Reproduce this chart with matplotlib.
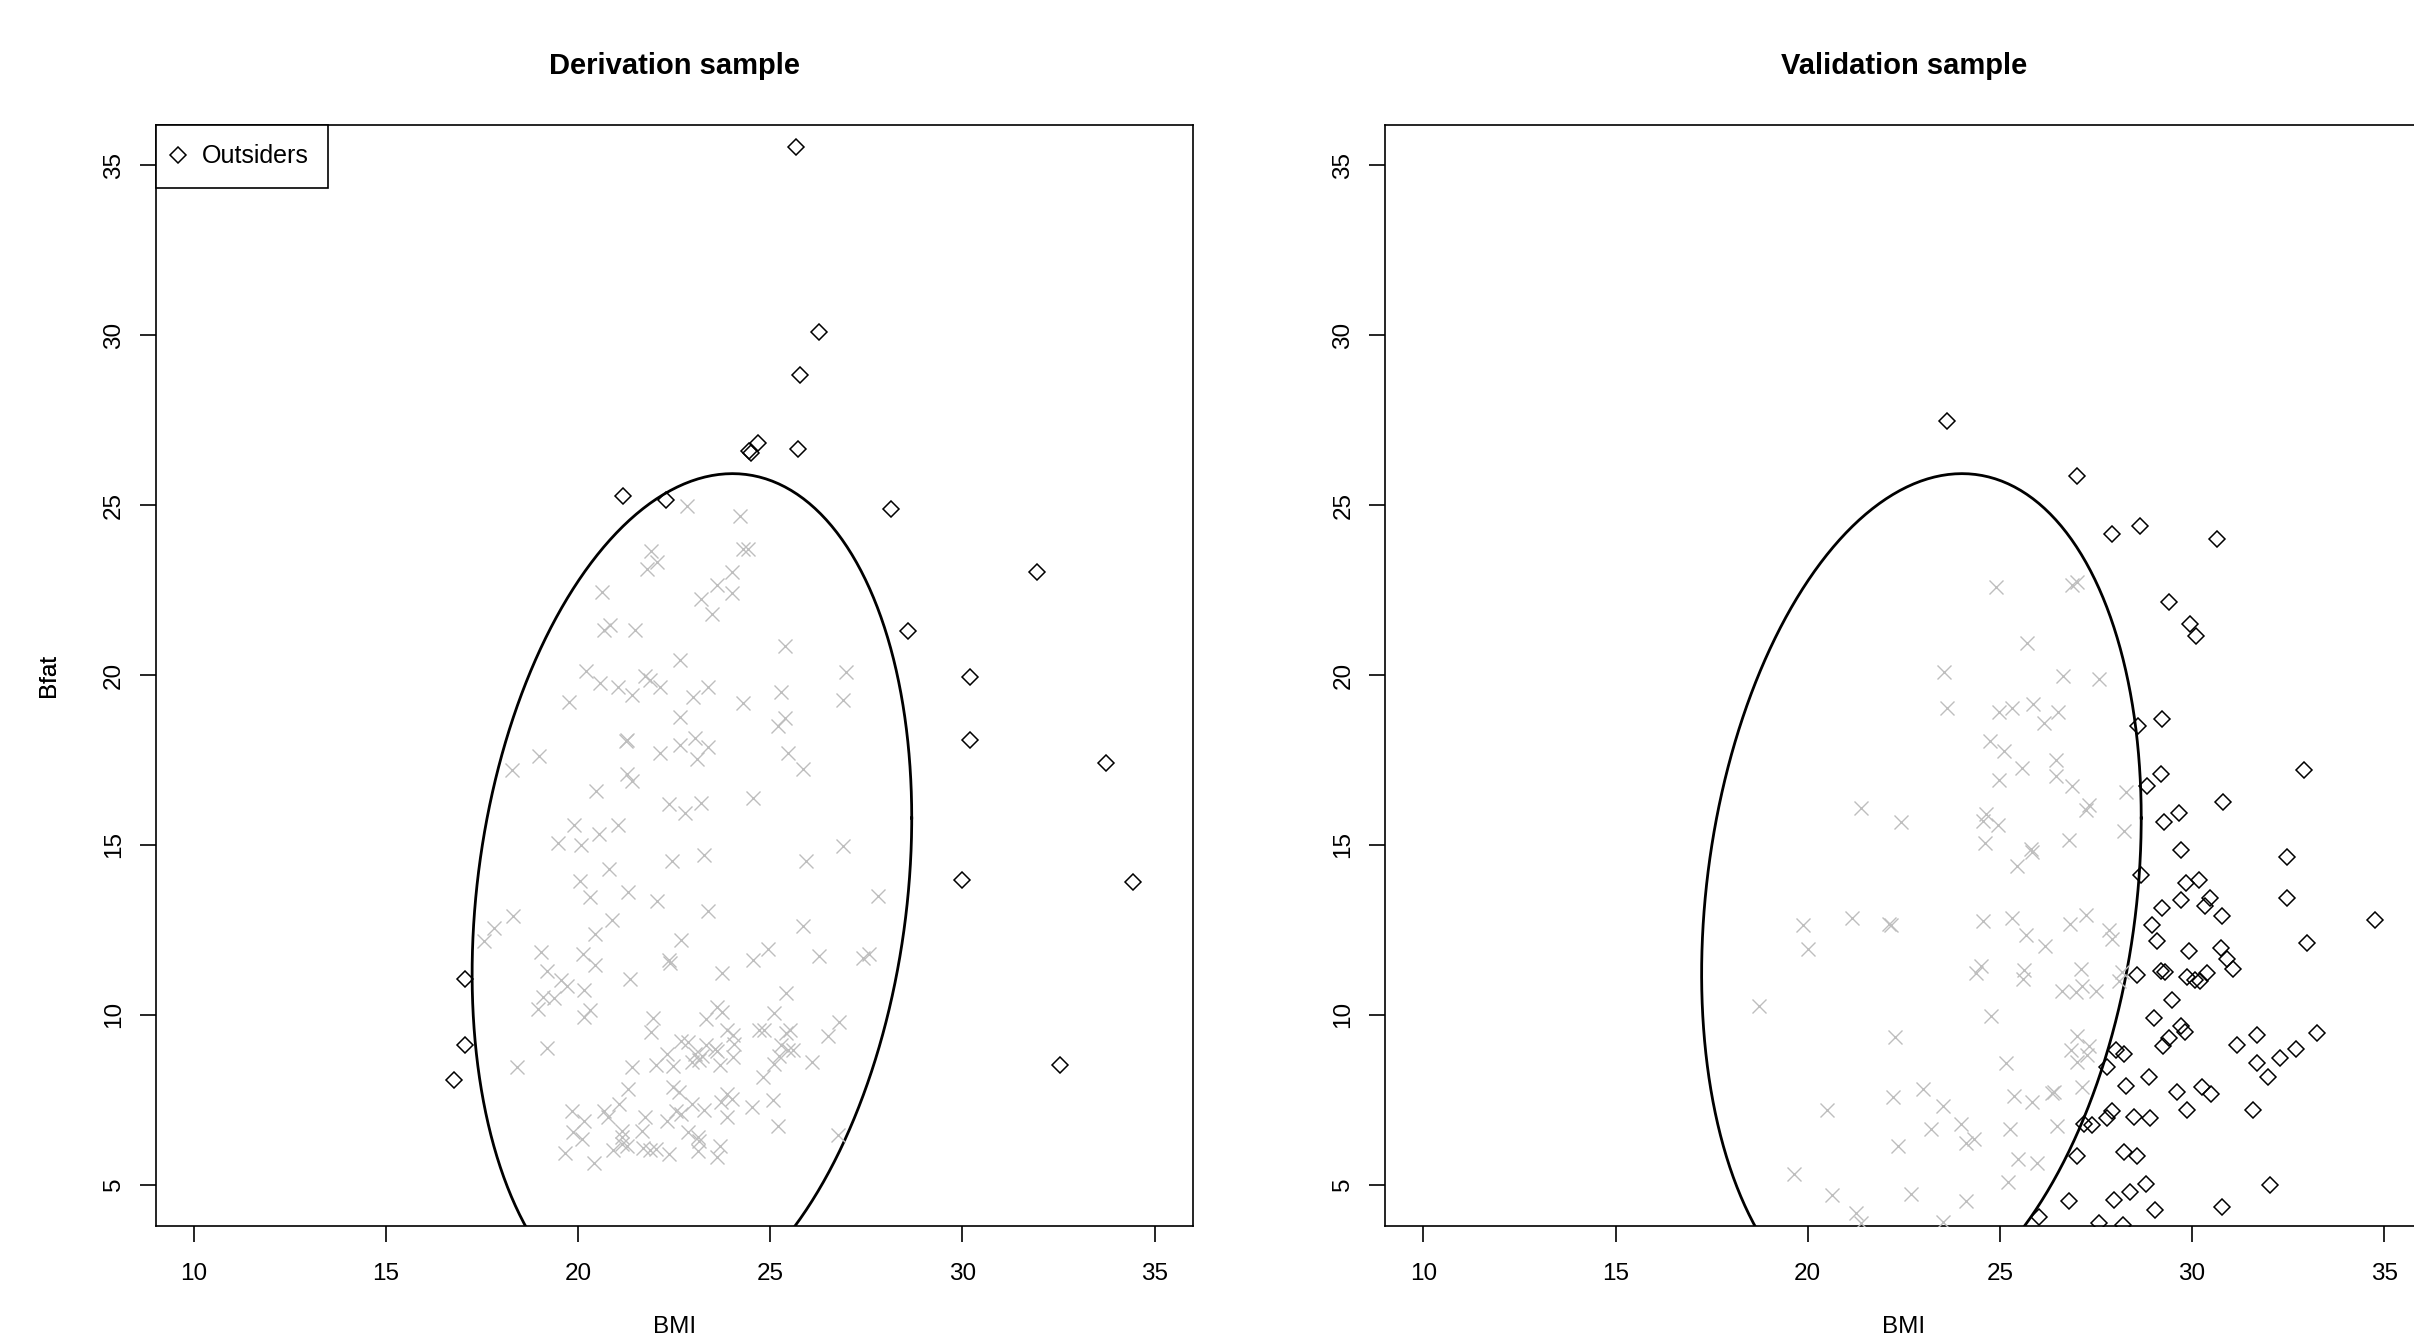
import matplotlib
matplotlib.use('Agg')
import matplotlib.pyplot as plt
import numpy as np

plt.rcParams['font.family'] = ['Liberation Sans', 'DejaVu Sans']

# Derivation sample, points inside the ellipse (BMI, Bfat)
deriv_inside = [
    (22.82, 24.97), (24.22, 24.69), (24.28, 23.71), (24.42, 23.71), (21.89, 23.66),
    (22.05, 23.32), (21.80, 23.12), (24.01, 23.02), (23.60, 22.64), (23.99, 22.41),
    (23.20, 22.25), (23.49, 21.80), (20.63, 22.44), (20.68, 21.33), (20.83, 21.46),
    (21.48, 21.33), (25.38, 20.87), (22.64, 20.45), (20.20, 20.13), (26.97, 20.10),
    (20.57, 19.76), (21.04, 19.64), (21.75, 19.98), (21.88, 19.86), (22.14, 19.64),
    (21.41, 19.40), (23.37, 19.64), (22.98, 19.37), (25.29, 19.51), (26.88, 19.27),
    (19.77, 19.20), (24.30, 19.17), (22.64, 18.78), (25.37, 18.73), (25.19, 18.50),
    (21.25, 18.07), (21.28, 18.09), (22.64, 17.94), (23.03, 18.14), (23.37, 17.89),
    (22.14, 17.70), (23.08, 17.52), (25.45, 17.70), (25.85, 17.24), (18.98, 17.63),
    (18.27, 17.22), (21.27, 17.09), (21.39, 16.88), (20.47, 16.60), (22.37, 16.20),
    (22.78, 15.95), (23.19, 16.24), (24.55, 16.39), (19.89, 15.58), (21.04, 15.58),
    (20.54, 15.32), (19.47, 15.07), (20.07, 15.01), (26.88, 14.97), (22.44, 14.52),
    (23.28, 14.70), (25.94, 14.53), (20.79, 14.28), (20.05, 13.94), (20.32, 13.47),
    (21.30, 13.62), (22.06, 13.35), (23.39, 13.06), (27.81, 13.49), (18.31, 12.91),
    (17.81, 12.56), (17.55, 12.16), (20.89, 12.78), (20.45, 12.39), (22.68, 12.19),
    (25.85, 12.61), (19.02, 11.85), (20.12, 11.78), (20.43, 11.48), (22.37, 11.60),
    (22.39, 11.54), (24.55, 11.62), (24.94, 11.93), (26.27, 11.72), (27.42, 11.68),
    (27.58, 11.78), (19.18, 11.28), (19.56, 11.02), (19.70, 10.84), (21.36, 11.06),
    (23.73, 11.23), (20.16, 10.74), (25.40, 10.64), (19.08, 10.52), (19.38, 10.49),
    (18.95, 10.16), (20.31, 10.15), (20.14, 9.93), (21.94, 9.90), (21.89, 9.49),
    (23.60, 10.23), (23.73, 10.08), (23.32, 9.87), (25.10, 10.05), (26.80, 9.79),
    (24.71, 9.56), (24.83, 9.56), (23.87, 9.56), (24.03, 9.40), (25.42, 9.46),
    (25.51, 9.54), (26.51, 9.39), (22.68, 9.22), (22.87, 9.19), (19.18, 9.03),
    (23.32, 9.10), (23.55, 9.00), (23.60, 8.95), (24.05, 9.15), (22.32, 8.85),
    (23.05, 8.85), (23.14, 8.66), (23.23, 8.80), (25.28, 9.10), (25.46, 8.97),
    (25.60, 8.97), (22.96, 8.61), (22.02, 8.51), (22.48, 8.48), (23.70, 8.51),
    (24.03, 8.75), (25.10, 8.56), (25.22, 8.80), (26.08, 8.61), (18.40, 8.46),
    (21.39, 8.46), (24.80, 8.18), (21.29, 7.82), (22.46, 7.87), (22.62, 7.72),
    (23.87, 7.67), (23.99, 7.53), (23.71, 7.43), (25.08, 7.48), (24.53, 7.28),
    (19.83, 7.18), (20.15, 6.87), (20.68, 7.18), (20.77, 6.99), (21.06, 7.38),
    (21.75, 6.99), (22.32, 6.87), (22.55, 7.18), (22.68, 7.08), (22.96, 7.38),
    (23.28, 7.21), (23.87, 6.99), (25.19, 6.74), (19.86, 6.56), (20.09, 6.34),
    (21.14, 6.59), (21.15, 6.40), (21.66, 6.57), (22.87, 6.56), (23.12, 6.40),
    (23.14, 6.30), (26.76, 6.45), (19.65, 5.92), (20.91, 6.03), (21.14, 6.20),
    (21.27, 6.15), (21.68, 6.07), (21.88, 6.03), (22.03, 6.05), (22.37, 5.91),
    (23.12, 6.00), (23.69, 6.15), (23.60, 5.81), (20.41, 5.63),
]

# Derivation sample, outsiders
deriv_outside = [
    (25.66, 35.53), (26.26, 30.11), (25.76, 28.83), (25.73, 26.66), (24.44, 26.59),
    (24.49, 26.54), (24.68, 26.82), (21.16, 25.26), (22.29, 25.16), (28.14, 24.90),
    (31.93, 23.03), (28.58, 21.31), (30.19, 19.94), (30.19, 18.08), (33.74, 17.40),
    (29.99, 13.98), (34.43, 13.91), (32.53, 8.52), (17.06, 11.05), (17.06, 9.10),
    (16.76, 8.07),
]

# Validation sample, points inside the ellipse
valid_inside = [
    (24.90, 22.59), (26.89, 22.64), (27.01, 22.74), (25.70, 20.94), (23.56, 20.08),
    (26.64, 19.96), (27.58, 19.89), (23.63, 19.02), (24.97, 18.92), (25.32, 19.02),
    (25.87, 19.15), (26.52, 18.92), (26.15, 18.60), (24.75, 18.07), (25.12, 17.78),
    (26.45, 17.50), (25.57, 17.27), (26.45, 17.03), (24.97, 16.91), (26.88, 16.74),
    (28.29, 16.57), (27.32, 16.17), (27.24, 16.03), (21.38, 16.09), (22.42, 15.68),
    (24.63, 15.91), (24.55, 15.70), (24.94, 15.60), (26.80, 15.15), (28.23, 15.41),
    (24.62, 15.06), (25.81, 14.87), (25.85, 14.80), (25.46, 14.39), (19.88, 12.63),
    (20.01, 11.95), (21.15, 12.84), (22.12, 12.68), (22.18, 12.65), (24.56, 12.75),
    (25.31, 12.84), (25.69, 12.36), (26.17, 12.03), (26.82, 12.68), (27.25, 12.94),
    (27.83, 12.50), (27.93, 12.24), (24.50, 11.43), (24.39, 11.22), (25.63, 11.31),
    (25.61, 11.05), (27.11, 11.36), (26.61, 10.69), (26.98, 10.67), (27.13, 10.84),
    (27.51, 10.69), (28.17, 11.25), (28.10, 10.99), (18.72, 10.27), (24.76, 9.96),
    (22.27, 9.36), (27.00, 9.39), (26.86, 8.98), (27.32, 9.08), (27.28, 8.83),
    (27.00, 8.62), (25.15, 8.59), (27.15, 7.89), (26.41, 7.72), (26.37, 7.69),
    (22.21, 7.58), (23.00, 7.82), (23.53, 7.31), (25.37, 7.62), (25.83, 7.43),
    (20.51, 7.19), (23.22, 6.65), (23.98, 6.79), (24.33, 6.36), (24.11, 6.22),
    (25.26, 6.65), (26.48, 6.73), (22.34, 6.14), (25.48, 5.77), (25.98, 5.65),
    (19.65, 5.33), (20.62, 4.71), (22.70, 4.74), (24.12, 4.53), (25.22, 5.08),
    (21.27, 4.17), (21.38, 3.86), (23.51, 3.91),
]

# Validation sample, outsiders
valid_outside = [
    (23.63, 27.47), (27.00, 25.86), (27.93, 24.16), (28.65, 24.38), (30.65, 24.01),
    (29.39, 22.16), (29.95, 21.50), (30.10, 21.15), (28.60, 18.49), (29.23, 18.70),
    (29.19, 17.09), (28.84, 16.74), (32.92, 17.21), (30.82, 16.26), (29.27, 15.69),
    (29.67, 15.93), (29.71, 14.86), (28.67, 14.11), (32.47, 14.65), (29.84, 13.88),
    (30.19, 13.96), (29.71, 13.37), (30.34, 13.21), (30.46, 13.45), (30.79, 12.91),
    (29.23, 13.15), (32.47, 13.45), (34.77, 12.80), (28.97, 12.65), (29.08, 12.17),
    (29.93, 11.87), (30.75, 11.97), (30.92, 11.64), (31.07, 11.34), (32.99, 12.12),
    (28.58, 11.18), (29.19, 11.30), (29.29, 11.25), (29.86, 11.11), (30.08, 11.04),
    (30.21, 10.99), (30.40, 11.22), (29.47, 10.44), (29.00, 9.90), (29.71, 9.67),
    (29.82, 9.49), (29.41, 9.31), (29.25, 9.07), (28.02, 8.96), (28.23, 8.86),
    (27.80, 8.47), (31.18, 9.12), (31.69, 9.42), (31.69, 8.59), (31.99, 8.18),
    (32.29, 8.74), (32.70, 9.00), (33.25, 9.46), (28.28, 7.91), (28.89, 8.17),
    (29.62, 7.73), (29.86, 7.20), (30.27, 7.88), (30.49, 7.66), (31.59, 7.20),
    (27.19, 6.78), (27.41, 6.75), (27.80, 6.96), (27.91, 7.16), (28.49, 6.99),
    (28.90, 6.96), (27.02, 5.85), (28.23, 5.95), (28.56, 5.85), (32.03, 4.98),
    (26.80, 4.53), (27.96, 4.56), (28.39, 4.80), (28.80, 5.02), (29.03, 4.27),
    (30.78, 4.35), (26.02, 4.05), (27.58, 3.88), (28.21, 3.82),
]

# Ellipse from the derivation sample: centre and shape matrix (BMI, Bfat)
ellipse_center = [22.96, 13.5]
ellipse_shape = [[32.72, 13.12], [13.12, 154.5]]

x_ticks = [10, 15, 20, 25, 30, 35]
y_ticks = [5, 10, 15, 20, 25, 30, 35]

# Ellipse outline
L = np.linalg.cholesky(np.array(ellipse_shape))
t = np.linspace(0, 2 * np.pi, 400)
ell = np.array(ellipse_center)[:, None] + L @ np.vstack([np.cos(t), np.sin(t)])

W, H = 2414, 1339
fig = plt.figure(figsize=(W / 100, H / 100), dpi=100)

# axes boxes in pixels: left, top, right, bottom
boxes = [(155.5, 124.7, 1193.0, 1225.5), (1385.0, 124.7, 2422.5, 1225.5)]
panels = [
    ("Derivation sample", deriv_inside, deriv_outside, True),
    ("Validation sample", valid_inside, valid_outside, False),
]

for (l, top, r, b), (title, inside, outside, show_legend) in zip(boxes, panels):
    ax = fig.add_axes([l / W, 1 - b / H, (r - l) / W, (b - top) / H])
    inside = np.array(inside)
    outside = np.array(outside)

    ax.plot(ell[0], ell[1], color='black', lw=2.0, zorder=2)
    ax.plot(inside[:, 0], inside[:, 1], 'x', color='#bebebe', ms=9.4, mew=1.0,
            linestyle='none', zorder=3)
    ax.plot(outside[:, 0], outside[:, 1], 'D', mfc='none', mec='black', ms=8.6,
            mew=1.1, linestyle='none', zorder=4, label='Outsiders')

    ax.set_xlim(9, 36)
    ax.set_ylim(3.8, 36.2)
    ax.set_xticks(x_ticks)
    ax.set_yticks(y_ticks)
    ax.tick_params(direction='out', length=11.5, width=1.2, labelsize=17.5)
    ax.tick_params(axis='x', pad=15.5)
    ax.tick_params(axis='y', pad=10.5, labelrotation=90)
    for lab in ax.get_yticklabels():
        lab.set_va('center')
    for sp in ax.spines.values():
        sp.set_linewidth(1.2)

    h = b - top
    ax.set_title(title, fontsize=21, fontweight='bold', y=1 + (top - 73.5) / h, pad=0)
    ax.set_xlabel('BMI', fontsize=17.5)
    ax.set_ylabel('Bfat', fontsize=17.5)
    # label centres in pixels: BMI near the bottom edge, Bfat at x = 49
    ax.xaxis.set_label_coords(0.5, -(1327 - b) / h)
    ax.xaxis.label.set_va('center')
    ax.yaxis.set_label_coords((49 - l) / (r - l), 0.5)
    ax.yaxis.label.set_va('center')

    if show_legend:
        leg = ax.legend(loc='upper left', bbox_to_anchor=(0, 1), borderaxespad=0,
                        fancybox=False, edgecolor='black', framealpha=1, fontsize=18,
                        borderpad=0.79, handlelength=0.22, handletextpad=0.84,
                        numpoints=1)
        leg.get_frame().set_linewidth(1.2)

fig.savefig('out.png', dpi=100)
